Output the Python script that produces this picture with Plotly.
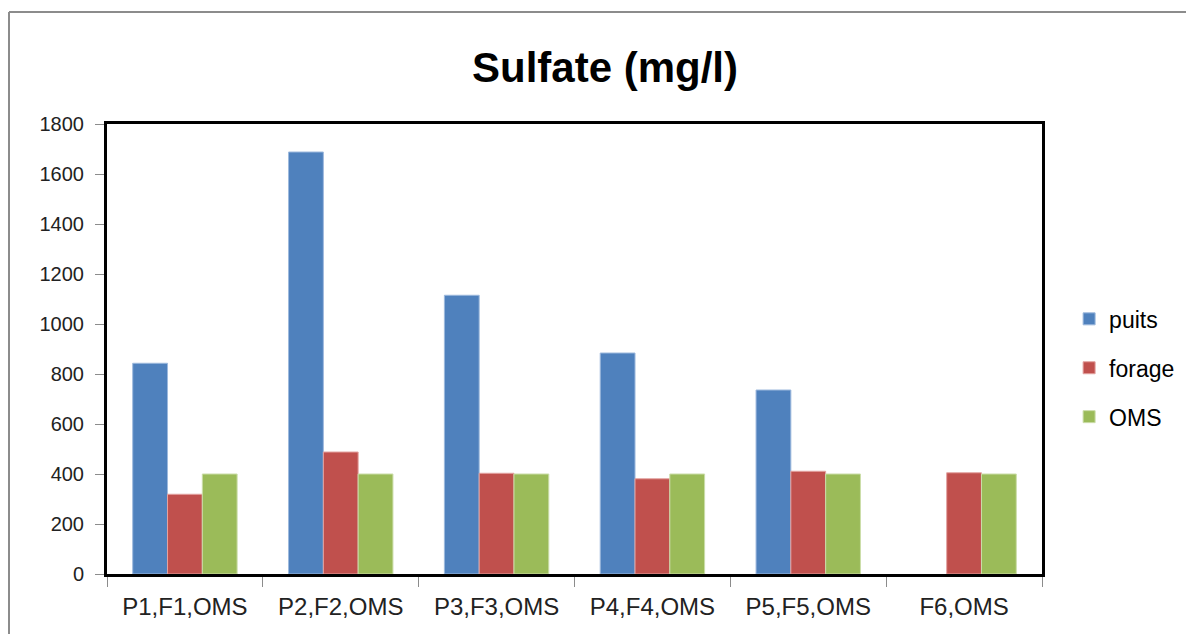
import plotly.graph_objects as go

categories = ["P1,F1,OMS", "P2,F2,OMS", "P3,F3,OMS", "P4,F4,OMS", "P5,F5,OMS", "F6,OMS"]
puits = [843, 1688, 1115, 884, 736, None]
forage = [319, 488, 403, 381, 411, 405]
oms = [400, 400, 400, 400, 400, 400]
y_ticks = [0, 200, 400, 600, 800, 1000, 1200, 1400, 1600, 1800]

FONT = "Liberation Sans"

fig = go.Figure()
for name, vals, col, edge in [
    ("puits", puits, "#4F81BD", "#9DB9DD"),
    ("forage", forage, "#C0504D", "#E3A3A1"),
    ("OMS", oms, "#9BBB59", "#CBDDA9"),
]:
    fig.add_trace(go.Bar(
        name=name, x=categories, y=vals, legendgroup=name,
        marker=dict(color=col, line=dict(color=edge, width=1)),
    ))

# page has an 8px body margin, so the figure is 8px smaller and shifted
W, H = 1186, 626
L, T, PW, PH = 99, 116, 935, 450
fig.update_layout(
    width=W, height=H,
    paper_bgcolor="white", plot_bgcolor="white",
    margin=dict(l=L, r=W - L - PW, t=T, b=H - T - PH),
    barmode="group", bargap=0.33, bargroupgap=0,
    title=dict(text="<b>Sulfate (mg/l)</b>", x=597 / W, xanchor="center",
               y=1 - 59 / H, yanchor="middle",
               font=dict(family=FONT, size=42, color="#000000")),
    legend=dict(x=1.029, xanchor="left", y=0.458, yanchor="middle",
                font=dict(family=FONT, size=23, color="#000000"),
                traceorder="grouped", tracegroupgap=16,
                bgcolor="rgba(0,0,0,0)"),
    font=dict(family=FONT, color="#222222"),
    shapes=[
        dict(type="line", xref="paper", yref="paper", x0=(1 - L) / PW, x1=1.2,
             y0=(T + PH - 4) / PH, y1=(T + PH - 4) / PH,
             line=dict(color="#8C8C8C", width=2)),
        dict(type="line", xref="paper", yref="paper", x0=(1 - L) / PW, x1=(1 - L) / PW,
             y0=(T + PH - 4) / PH, y1=-0.2, line=dict(color="#8C8C8C", width=2)),
    ],
)
fig.update_xaxes(
    showline=True, linecolor="black", linewidth=3, mirror=True,
    ticks="outside", tickson="boundaries", ticklen=10, tickcolor="#8C8C8C", tickwidth=1,
    tickfont=dict(family=FONT, size=24, color="#222222"),
    ticklabelstandoff=9,
    showgrid=False,
)
fig.update_yaxes(
    range=[0, 1800], tickvals=y_ticks,
    showline=True, linecolor="black", linewidth=3, mirror=True,
    ticks="outside", ticklen=9, tickcolor="#8C8C8C", tickwidth=1,
    tickfont=dict(family=FONT, size=20, color="#222222"),
    ticklabelstandoff=7,
    showgrid=False, zeroline=False,
)

fig.write_html("out.html")
